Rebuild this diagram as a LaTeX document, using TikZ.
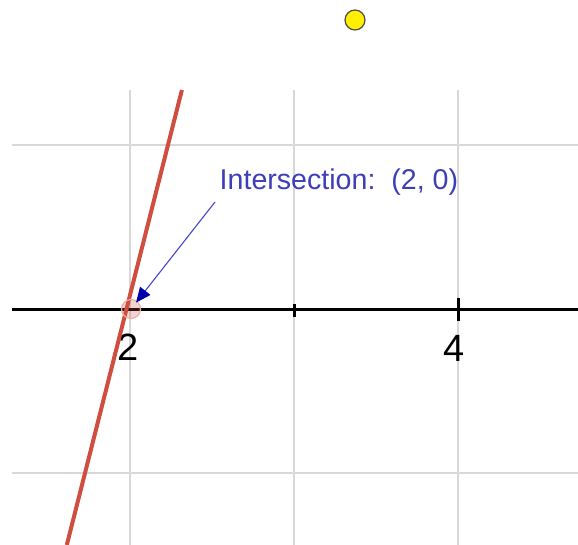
\documentclass[tikz,border=0pt]{standalone}
\usepackage{fontspec}
\setmainfont{Liberation Sans}
\usetikzlibrary{arrows.meta}
\definecolor{gridgray}{RGB}{216,216,216}
\definecolor{linered}{RGB}{207,78,64}
\definecolor{txtblue}{RGB}{62,62,182}
\definecolor{arrblue}{RGB}{70,70,205}
\definecolor{tipblue}{RGB}{0,0,170}
\definecolor{dotyellow}{RGB}{255,240,0}
\begin{document}
\begin{tikzpicture}[x=1pt,y=-1pt,
  gridline/.style={draw=gridgray,line width=1.6pt},
  axisline/.style={draw=black,line width=3.5pt},
  tickmark/.style={draw=black,line width=3pt},
  graphline/.style={draw=linered,line width=4pt},
  ticklabel/.style={font=\fontsize{38}{38}\selectfont,anchor=base,inner sep=0pt},
  pointer/.style={draw=arrblue,line width=1.1pt,-{Triangle[length=15pt,width=13pt,color=tipblue]}},
  intpoint/.style={circle,minimum size=19pt,inner sep=0pt,draw=linered!45,line width=1.2pt,fill=linered,fill opacity=0.25,draw opacity=1},
  sunnode/.style={circle,minimum size=20pt,inner sep=0pt,fill=dotyellow,draw=black!70,line width=1.2pt}]
\useasboundingbox (0,0) rectangle (578,545);
% grid
\draw[gridline] (130,90) -- (130,545);
\draw[gridline] (294,90) -- (294,545);
\draw[gridline] (458,90) -- (458,545);
\draw[gridline] (12,145) -- (578,145);
\draw[gridline] (12,473) -- (578,473);
% axis
\draw[axisline] (12,309.5) -- (578,309.5);
\draw[tickmark] (294,304) -- (294,317);
\draw[tickmark] (458,298) -- (458,321);
\node[ticklabel] (l2) at (128,360) {2};
\node[ticklabel] (l4) at (454,361) {4};
% line
\coordinate (ltop) at (181.9,90);
\coordinate (lbot) at (66.8,545);
\draw[graphline] (ltop) -- (lbot);
% intersection point
\node[intpoint] (P) at (131,309) {};
% label and arrow
\node[anchor=base west,inner sep=0pt,text=txtblue,font=\fontsize{28.6}{28.6}\selectfont] (lab) at (219.5,190) {Intersection:\ \ (2, 0)};
\coordinate (astart) at (215,202);
\draw[pointer,shorten >=-2pt] (astart) -- (P);
% yellow dot
\node[sunnode] (sun) at (355,20) {};
\end{tikzpicture}
\end{document}
